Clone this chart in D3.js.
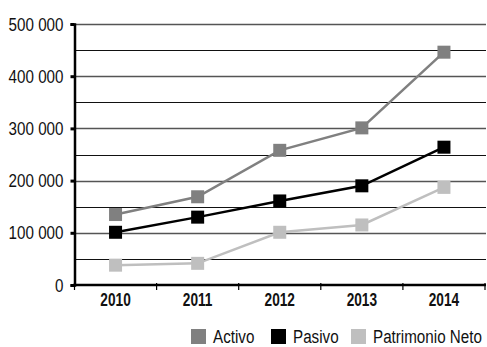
<!DOCTYPE html>
<html>
<head>
<meta charset="utf-8">
<script src="https://cdn.jsdelivr.net/npm/d3@7"></script>
<style>
  html, body { margin: 0; padding: 0; background: #fff; }
  svg { display: block; }
  text { font-family: "Liberation Sans", Arial, sans-serif; }
</style>
</head>
<body>
<svg id="chart" width="487" height="347"></svg>
<script>
// Balance figures by year
const years = ["2010", "2011", "2012", "2013", "2014"];
const activo = [135000, 169000, 258000, 301000, 446000];
const pasivo = [101000, 130000, 161000, 190000, 264000];
const patrimonioNeto = [38000, 41500, 101000, 115000, 187000];
const yTicks = [0, 100000, 200000, 300000, 400000, 500000];
const gridValues = [50000, 100000, 150000, 200000, 250000, 300000, 350000, 400000, 450000, 500000];

const seriesNames = ["Activo", "Pasivo", "Patrimonio Neto"];
const seriesColors = ["#808080", "#000000", "#bfbfbf"];
const series = [activo, pasivo, patrimonioNeto];

// Narrow lettering: regular sans squeezed horizontally
const NARROW = 0.8;

const svg = d3.select("#chart");
const margin = { left: 74.5, right: 485, top: 24, bottom: 285 };

const x = d3.scaleBand().domain(years).range([margin.left, margin.right]);
const y = d3.scaleLinear().domain([0, 500000]).range([margin.bottom, margin.top]);

const fmt = v => d3.format(",")(v).replace(/,/g, " ");

// Horizontal grid
svg.append("g").selectAll("line").data(gridValues).join("line")
  .attr("x1", margin.left).attr("x2", 486)
  .attr("y1", d => Math.round(y(d)) + 0.5).attr("y2", d => Math.round(y(d)) + 0.5)
  .attr("stroke", d => d % 100000 === 0 ? "#555" : "#111")
  .attr("stroke-width", d => d % 100000 === 0 ? 1.6 : 1.1);

// Y axis
const yAxis = svg.append("g").attr("transform", `translate(${margin.left},0)`)
  .call(d3.axisLeft(y).tickValues(yTicks).tickFormat(fmt).tickSize(4).tickPadding(7));
yAxis.select(".domain").attr("stroke", "#000").attr("stroke-width", 2.5);
yAxis.selectAll(".tick line").attr("stroke", "#000").attr("stroke-width", 3);
yAxis.selectAll(".tick text")
  .attr("font-size", 19).attr("fill", "#111")
  .attr("x", -11 / NARROW)
  .attr("transform", `scale(${NARROW},1)`);

// X axis
const xAxis = svg.append("g").attr("transform", `translate(0,${margin.bottom})`)
  .call(d3.axisBottom(x).tickSize(0).tickPadding(8));
xAxis.select(".domain").remove();
xAxis.selectAll(".tick text")
  .attr("font-size", 18).attr("font-weight", "bold").attr("fill", "#111")
  .attr("transform", "scale(0.76,1)");
svg.append("line")
  .attr("x1", margin.left - 1).attr("x2", margin.right + 1)
  .attr("y1", margin.bottom).attr("y2", margin.bottom)
  .attr("stroke", "#000").attr("stroke-width", 2.5);
// Category separators below the axis
const seps = years.map(d => x(d)).concat([x(years[years.length - 1]) + x.bandwidth()]);
svg.append("g").selectAll("line").data(seps).join("line")
  .attr("x1", d => d).attr("x2", d => d)
  .attr("y1", margin.bottom - 2).attr("y2", margin.bottom + 5)
  .attr("stroke", "#000").attr("stroke-width", 1.2);

// Lines and markers
const cx = d => x(d) + x.bandwidth() / 2;
const line = d3.line().x((v, i) => cx(years[i])).y(v => y(v));
series.forEach((vals, si) => {
  const g = svg.append("g");
  g.append("path").datum(vals).attr("d", line)
    .attr("fill", "none").attr("stroke", seriesColors[si]).attr("stroke-width", 2.5);
  g.selectAll("rect").data(vals).join("rect")
    .attr("x", (v, i) => cx(years[i]) - 6.5).attr("y", v => y(v) - 6.5)
    .attr("width", 13).attr("height", 13).attr("fill", seriesColors[si]);
});

// Legend
const legendX = [191, 271, 351];
const legend = svg.append("g");
seriesNames.forEach((name, i) => {
  legend.append("rect").attr("x", legendX[i]).attr("y", 329).attr("width", 15).attr("height", 15)
    .attr("fill", seriesColors[i]);
  legend.append("g").attr("transform", `translate(${legendX[i] + 22},343) scale(${NARROW},1)`)
    .append("text").attr("font-size", 19).attr("fill", "#111").text(name);
});
</script>
</body>
</html>
